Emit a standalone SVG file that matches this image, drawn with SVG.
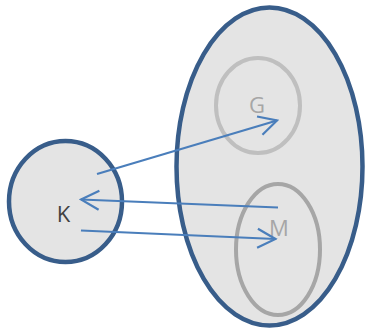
<svg xmlns="http://www.w3.org/2000/svg" width="365" height="331" viewBox="0 0 365 331">
  <style>
    .set { fill: #e4e4e4; stroke: #385d8a; stroke-width: 4.5; }
    .sub { fill: none; stroke-width: 4; }
    .lbl { font-family: "Open Sans", "Liberation Sans", sans-serif; font-size: 22px; text-anchor: middle; }
    .link { fill: none; stroke: #4a7ebb; stroke-width: 2.2; }
  </style>
  <defs>
    <marker id="arrow" viewBox="0 0 22 22" refX="20" refY="11" markerWidth="22" markerHeight="22" markerUnits="userSpaceOnUse" orient="auto">
      <path d="M2,1.5 L20,11 L2,20.5" fill="none" stroke="#4a7ebb" stroke-width="2.2"/>
    </marker>
  </defs>
  <rect width="365" height="331" fill="#ffffff"/>

  <g id="set-outer">
    <ellipse class="set" cx="269.5" cy="166.5" rx="93" ry="159" stroke-width="5"/>
  </g>
  <g id="node-G">
    <ellipse class="sub" cx="258" cy="105.5" rx="42" ry="47.5" stroke="#bfbfbf"/>
    <text class="lbl" x="257" y="112.5" fill="#a6a6a6">G</text>
  </g>
  <g id="node-M">
    <ellipse class="sub" cx="278" cy="249.5" rx="42" ry="65.5" stroke="#a6a6a6"/>
    <text class="lbl" x="279" y="235.5" fill="#a6a6a6">M</text>
  </g>
  <g id="node-K">
    <ellipse class="set" cx="65.5" cy="201.5" rx="56.5" ry="60.5"/>
    <text class="lbl" x="63.5" y="222" fill="#404040">K</text>
  </g>

  <g id="connectors">
    <line class="link" x1="97" y1="174" x2="277" y2="120.5" marker-end="url(#arrow)"/>
    <line class="link" x1="278" y1="207.5" x2="81" y2="199.5" marker-end="url(#arrow)"/>
    <line class="link" x1="81" y1="230.5" x2="275.5" y2="239" marker-end="url(#arrow)"/>
  </g>
</svg>
